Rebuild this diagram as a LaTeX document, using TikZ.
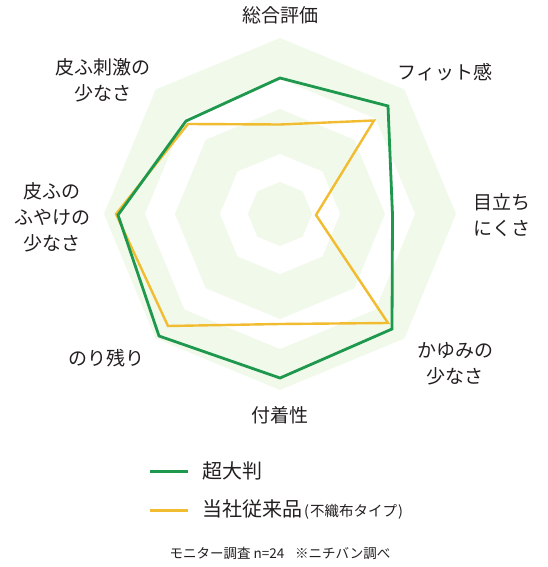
\documentclass[tikz,border=0pt]{standalone}
\usepackage{fontspec}
\setmainfont{Noto Sans CJK JP}
\definecolor{bgg}{RGB}{241,249,235}
\definecolor{gline}{RGB}{30,152,76}
\definecolor{oline}{RGB}{242,188,48}
\definecolor{txt}{RGB}{35,31,32}
\tikzset{
  lbl/.style={text=txt, font=\fontsize{19}{26}\selectfont, align=center, inner sep=0pt},
  leg/.style={text=txt, font=\fontsize{20}{24}\selectfont, anchor=west, inner sep=0pt},
  note/.style={text=txt, font=\fontsize{13.5}{16}\selectfont, inner sep=0pt},
  gser/.style={draw=gline, line width=2.8pt, line join=miter},
  oser/.style={draw=oline, line width=2.4pt, line join=miter},
}
\begin{document}
\begin{tikzpicture}[x=1pt,y=-1pt]
\useasboundingbox (0,0) rectangle (547,567);
% background octagonal bands
\begin{scope}[shift={(280,214)}]
\foreach \r/\c in {176/bgg,135/white,105/bgg,60/white,32/bgg}{
  \fill[\c] (90:\r) -- (135:\r) -- (180:\r) -- (225:\r) -- (270:\r) -- (315:\r) -- (0:\r) -- (45:\r) -- cycle;
}
\end{scope}
% orange series (当社従来品)
\coordinate (o1) at (280,124.5);
\coordinate (o2) at (374,120.5);
\coordinate (o3) at (316,215);
\coordinate (o4) at (388,323);
\coordinate (o5) at (280,324);
\coordinate (o6) at (168,326);
\coordinate (o7) at (116,214);
\coordinate (o8) at (188,124);
\draw[oser] (o1) -- (o2) -- (o3) -- (o4) -- (o5) -- (o6) -- (o7) -- (o8) -- cycle;
% green series (超大判)
\coordinate (g1) at (280,78);
\coordinate (g2) at (388,106);
\coordinate (g3) at (392.5,215);
\coordinate (g4) at (392,329);
\coordinate (g5) at (280,378);
\coordinate (g6) at (159,336);
\coordinate (g7) at (118,215);
\coordinate (g8) at (186,121);
\draw[gser] (g1) -- (g2) -- (g3) -- (g4) -- (g5) -- (g6) -- (g7) -- (g8) -- cycle;
% axis labels
\node[lbl] (l1) at (280,15) {総合評価};
\node[lbl] (l2) at (445,72) {フィット感};
\node[lbl] (l3) at (502,215.5) {目立ち\\にくさ};
\node[lbl] (l4) at (455,363.5) {かゆみの\\少なさ};
\node[lbl] (l5) at (280,415) {付着性};
\node[lbl] (l6) at (106,358) {のり残り};
\node[lbl] (l7) at (52,217.5) {皮ふの\\ふやけの\\少なさ};
\node[lbl] (l8) at (103,80.5) {皮ふ刺激の\\少なさ};
% legend
\coordinate (lg1a) at (150,471);
\coordinate (lg1b) at (188,471);
\draw[draw=gline, line width=3pt] (lg1a) -- (lg1b);
\node[leg] (t1) at (202,471) {超大判};
\coordinate (lg2a) at (150,510);
\coordinate (lg2b) at (188,510);
\draw[draw=oline, line width=3pt] (lg2a) -- (lg2b);
\node[leg] (t2) at (202,510) {当社従来品\hspace{2pt}{\fontsize{14.5}{16}\selectfont (\hspace{1pt}不織布タイプ\hspace{1pt})}};
% note
\node[note] (n1) at (280,553) {モニター調査 n=24\hspace{0.8em}※ニチバン調べ};
\end{tikzpicture}
\end{document}
